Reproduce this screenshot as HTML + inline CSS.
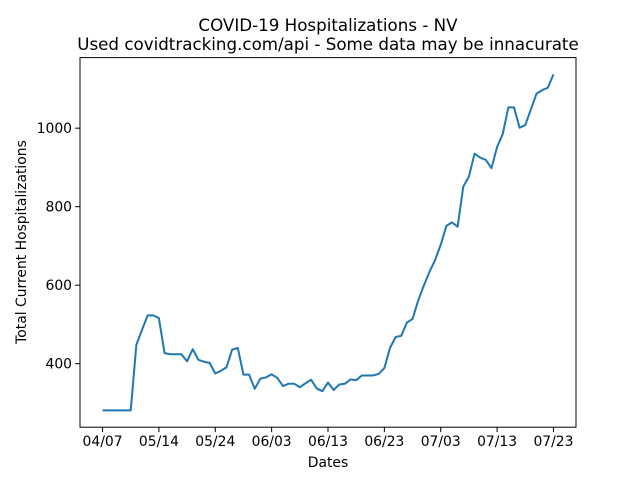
<!DOCTYPE html>
<html><head><meta charset="utf-8"><style>
html,body{margin:0;padding:0;background:#fff;}
svg{display:block;font-family:"DejaVu Sans","Liberation Sans",sans-serif;}
</style></head><body>
<svg id="chart" width="640" height="480" viewBox="0 0 640 480">
<rect x="0" y="0" width="640" height="480" fill="#fff"/>
<text x="328" y="31" text-anchor="middle" font-size="16.7">COVID-19 Hospitalizations - NV</text>
<text x="328" y="50" text-anchor="middle" font-size="16.7">Used covidtracking.com/api - Some data may be innacurate</text>
<g id="xticks"></g><g id="yticks"></g>
<path id="line" fill="none" stroke="#1f77b4" stroke-width="2" stroke-linejoin="round"/>
<rect x="80" y="57.6" width="496" height="369.6" fill="none" stroke="#000" stroke-width="1"/>
<text x="328" y="467" text-anchor="middle" font-size="13.9">Dates</text>
<text transform="translate(26,242) rotate(-90)" text-anchor="middle" font-size="13.9">Total Current Hospitalizations</text>
</svg>
<script>
const tickLabels = ["04/07","05/14","05/24","06/03","06/13","06/23","07/03","07/13","07/23"];
const tickIndices = [0,10,20,30,40,50,60,70,80];
const yTicks = [400,600,800,1000];
const values = [281,281,281,281,281,281,448,486,523,523,516,427,424,424,424,406,437,410,405,402,375,382,391,436,440,372,372,336,362,365,373,364,343,349,349,340,350,359,337,330,352,333,347,349,360,358,370,370,370,374,389,440,468,471,505,514,561,599,634,664,703,751,760,749,851,877,935,925,919,898,952,985,1053,1053,1001,1008,1048,1088,1097,1103,1137];

const NS="http://www.w3.org/2000/svg";
const L=80,R=576,T=57.6,B=427.2;
const n=values.length-1;
const xm=n*0.05;
const xS=i=>L+(i+xm)/(n+2*xm)*(R-L);
const vmin=Math.min(...values),vmax=Math.max(...values),ym=(vmax-vmin)*0.05;
const yS=v=>B-(v-(vmin-ym))/((vmax-vmin)+2*ym)*(B-T);

let d="";
values.forEach((v,i)=>{d+=(i?"L":"M")+xS(i).toFixed(2)+","+yS(v).toFixed(2);});
document.getElementById("line").setAttribute("d",d);

const xg=document.getElementById("xticks");
tickIndices.forEach((ti,k)=>{
  const x=xS(ti);
  const ln=document.createElementNS(NS,"line");
  ln.setAttribute("x1",x);ln.setAttribute("x2",x);ln.setAttribute("y1",B);ln.setAttribute("y2",B+4.9);
  ln.setAttribute("stroke","#000");
  
  
  xg.appendChild(ln);
  const t=document.createElementNS(NS,"text");
  t.setAttribute("x",x);t.setAttribute("y",446);t.setAttribute("text-anchor","middle");t.setAttribute("font-size","13.9");
  t.textContent=tickLabels[k];
  
  
  xg.appendChild(t);
});
const yg=document.getElementById("yticks");
yTicks.forEach(v=>{
  const y=yS(v);
  const ln=document.createElementNS(NS,"line");
  ln.setAttribute("x1",L-4.9);ln.setAttribute("x2",L);ln.setAttribute("y1",y);ln.setAttribute("y2",y);
  ln.setAttribute("stroke","#000");
  
  
  yg.appendChild(ln);
  const t=document.createElementNS(NS,"text");
  t.setAttribute("x",L-8);t.setAttribute("y",y+5);t.setAttribute("text-anchor","end");t.setAttribute("font-size","13.9");
  t.textContent=v;
  
  
  yg.appendChild(t);
});
</script>
</body></html>
